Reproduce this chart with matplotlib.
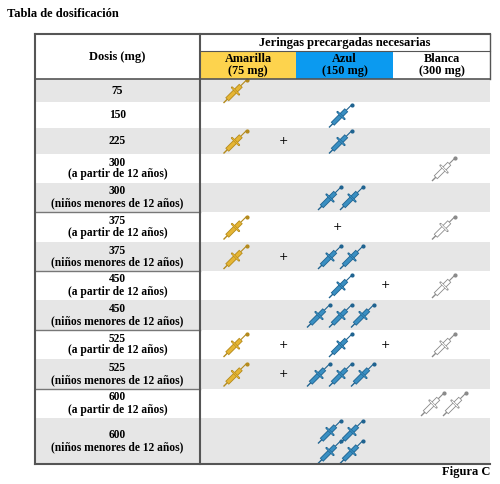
import matplotlib
matplotlib.use("Agg")
import matplotlib.pyplot as plt

doses = ["75", "150", "225", "300\n(a partir de 12 años)", "300\n(niños menores de 12 años)",
         "375\n(a partir de 12 años)", "375\n(niños menores de 12 años)",
         "450\n(a partir de 12 años)", "450\n(niños menores de 12 años)",
         "525\n(a partir de 12 años)", "525\n(niños menores de 12 años)",
         "600\n(a partir de 12 años)", "600\n(niños menores de 12 años)"]
amarilla = [1, 0, 1, 0, 0, 1, 1, 0, 0, 1, 1, 0, 0]
azul =     [0, 1, 1, 0, 2, 0, 2, 1, 3, 1, 3, 0, 4]
blanca =   [0, 0, 0, 1, 0, 1, 0, 1, 0, 1, 0, 2, 0]
cols = ["Amarilla\n(75 mg)", "Azul\n(150 mg)", "Blanca\n(300 mg)"]

bounds = [79, 102, 128, 154, 183, 212, 242, 271, 300, 330, 359, 389, 418, 464]
FONT = "Liberation Serif"

fig = plt.figure(figsize=(5.0, 4.84), dpi=100)
ax = fig.add_axes([0, 0, 1, 1])
ax.set_xlim(0, 500); ax.set_ylim(484, 0); ax.axis("off")

L, C1, C2, C3, R = 35, 200, 296, 393, 490
ax.text(7, 14, "Tabla de dosificación", fontsize=9, fontweight="bold", family=FONT, va="center")
ax.text(R, 472, "Figura C", fontsize=9, fontweight="bold", family=FONT, va="center", ha="right")

# header
ax.fill_between([C1, C2], 51, 79, color="#fdd34d", lw=0)
ax.fill_between([C2, C3], 51, 79, color="#0b9af0", lw=0)
ax.text((L + C1) / 2, 57, "Dosis (mg)", fontsize=9, fontweight="bold", family=FONT, ha="center", va="center")
ax.text((C1 + R) / 2, 43, "Jeringas precargadas necesarias", fontsize=9, fontweight="bold", family=FONT, ha="center", va="center")
for (a, b), t in zip([(C1, C2), (C2, C3), (C3, R)], cols):
    ax.text((a + b) / 2, 65, t, fontsize=8.8, fontweight="bold", family=FONT, ha="center", va="center", linespacing=0.9)

def syringe(x, y, col, edge, s=1.0):
    def P(dx, dy):
        return x + dx * s, y - dy * s
    ax.plot(*zip(P(5, 5), P(10, 10)), color=edge, lw=0.8, solid_capstyle="round")
    ax.plot(*zip(P(-9, -9), P(5, 5)), color=edge, lw=3.6, solid_capstyle="butt")
    ax.plot(*zip(P(-8.5, -8.5), P(4.5, 4.5)), color=col, lw=2.4, solid_capstyle="butt")
    ax.plot(*zip(P(-4, 3), P(3, -4)), color=edge, lw=1.6, solid_capstyle="round")
    ax.plot(*zip(P(-3.5, 2.5), P(2.5, -3.5)), color=col, lw=0.8, solid_capstyle="round")
    ax.plot(*zip(P(-9, -9), P(-12, -12)), color=edge, lw=1.0)
    ax.plot(*[[v] for v in P(10.5, 10.5)], "o", color=edge, ms=2)

styles = {"a": ("#e5b534", "#b48a1c"), "z": ("#3a8fc2", "#1f6390"), "b": ("#ffffff", "#8a8a8a")}
cx = {"a": (C1 + C2) / 2 - 12, "z": (C2 + C3) / 2 - 3, "b": (C3 + R) / 2 - 3}

for i, d in enumerate(doses):
    y0, y1 = bounds[i], bounds[i + 1]
    ym = (y0 + y1) / 2
    if i % 2 == 0:
        ax.fill_between([L, R], y0, y1, color="#e6e6e6", lw=0)
    ax.text((L + C1) / 2, ym, d, fontsize=8.3, fontweight="bold", family=FONT, ha="center", va="center", linespacing=1.0)
    if i > 0 and "\n" in d and "\n" in doses[i-1] and d.split("\n")[0] != doses[i-1].split("\n")[0]:
        ax.plot([L, C1], [y0, y0], color="#777777", lw=1)
    present = []
    if amarilla[i]:
        syringe(cx["a"], ym, *styles["a"]); present.append("a")
    n = azul[i]
    if n:
        present.append("z")
        if n == 4:
            for dx in (-11, 11):
                for dy in (-10, 10):
                    syringe(cx["z"] + dx, ym + dy, *styles["z"])
        else:
            for k in range(n):
                syringe(cx["z"] + (k - (n - 1) / 2) * 22, ym, *styles["z"])
    m = blanca[i]
    if m:
        present.append("b")
        for k in range(m):
            syringe(cx["b"] + 6 + (k - (m - 1) / 2) * 22, ym, *styles["b"])
    plus = {("a", "z"): [283], ("a", "b"): [337], ("z", "b"): [385], ("a", "z", "b"): [283, 385]}
    for px in plus.get(tuple(present), []):
        ax.text(px, ym, "+", fontsize=8, ha="center", va="center", family="DejaVu Sans")

lc = "#555555"
ax.plot([L, R], [34, 34], color=lc, lw=1.5)
ax.plot([L, R], [bounds[-1], bounds[-1]], color=lc, lw=1.5)
ax.plot([L, R], [79, 79], color=lc, lw=1.2)
ax.plot([C1, R], [51, 51], color=lc, lw=0.8)
ax.plot([L, L], [34, bounds[-1]], color=lc, lw=1.5)
ax.plot([R, R], [34, 79], color=lc, lw=1.0)
ax.plot([C1, C1], [34, bounds[-1]], color=lc, lw=1.5)

fig.savefig("out.png", dpi=100)
